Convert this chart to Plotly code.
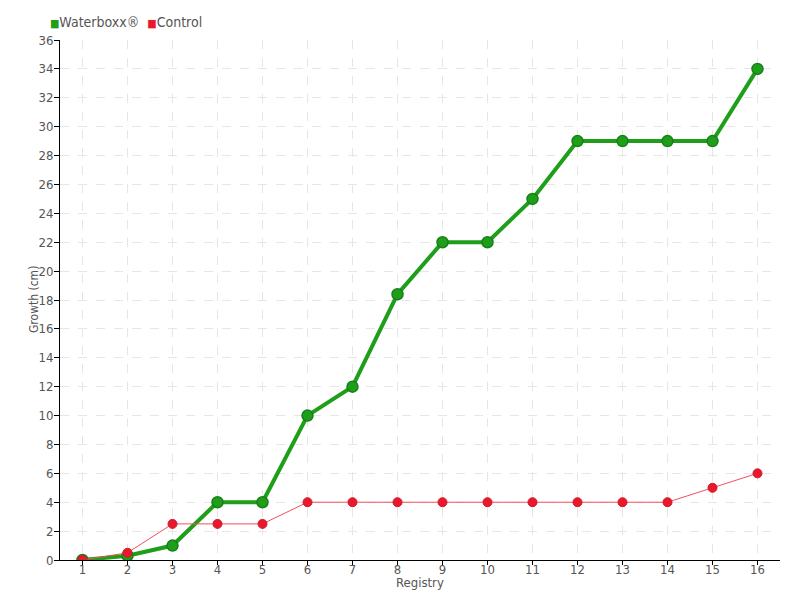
import plotly.graph_objects as go

registry = list(range(1, 17))
waterboxx = [0, 0.3, 1, 4, 4, 10, 12, 18.4, 22, 22, 25, 29, 29, 29, 29, 34]
control = [0, 0.5, 2.5, 2.5, 2.5, 4, 4, 4, 4, 4, 4, 4, 4, 4, 5, 6]

FONT = "DejaVu Sans Condensed, Roboto, sans-serif"
GREEN = "#1f9e1a"
RED = "#e8192c"
GREY = "#555555"

fig = go.Figure()
fig.add_trace(go.Scatter(x=registry, y=waterboxx, mode="lines+markers",
                         name="Waterboxx®",
                         line=dict(color=GREEN, width=4),
                         marker=dict(color=GREEN, size=11,
                                     line=dict(color="#17801a", width=1.5))))
fig.add_trace(go.Scatter(x=registry, y=control, mode="lines+markers",
                         name="Control",
                         line=dict(color="#f0505c", width=1),
                         marker=dict(color=RED, size=9,
                                     line=dict(color="#d0182a", width=1))))

# legend drawn as text with square swatches
fig.add_annotation(xref="paper", yref="paper", x=0, y=1.0, xshift=-12, yshift=18,
                   xanchor="left", yanchor="middle", showarrow=False,
                   text=f"<span style='color:{GREEN};font-size:11px'>■</span>Waterboxx®"
                        f"  <span style='color:{RED};font-size:11px'>■</span>Control",
                   font=dict(size=14, color=GREY))
# axis titles
fig.add_annotation(xref="paper", yref="paper", x=0.5, y=0, yshift=-22,
                   xanchor="center", yanchor="middle", showarrow=False,
                   text="Registry", font=dict(size=13, color=GREY))
fig.add_annotation(xref="paper", yref="paper", x=0, y=0.5, xshift=-26,
                   xanchor="center", yanchor="middle", showarrow=False,
                   textangle=-90, text="Growth (cm)", font=dict(size=12, color=GREY))

# the page body adds an 8px offset, margins compensate for it
fig.update_layout(
    width=800, height=600,
    showlegend=False,
    margin=dict(l=52, r=28, t=32, b=48, autoexpand=False),
    plot_bgcolor="white", paper_bgcolor="white",
    font=dict(family=FONT, size=13, color=GREY),
    xaxis=dict(range=[0.5, 16.5], tickmode="array", tickvals=registry,
               showline=True, linecolor="black", linewidth=1,
               ticks="outside", ticklen=4, tickcolor="black",
               ticklabelstandoff=-7,
               showgrid=True, gridcolor="#e6e6e6", griddash="dash", gridwidth=1,
               zeroline=False),
    yaxis=dict(range=[0, 36], dtick=2,
               showline=True, linecolor="black", linewidth=1,
               ticks="outside", ticklen=5, tickcolor="black",
               ticklabelstandoff=-2,
               showgrid=True, gridcolor="#e6e6e6", griddash="dash", gridwidth=1,
               zeroline=False),
)

fig.write_html("out.html")
